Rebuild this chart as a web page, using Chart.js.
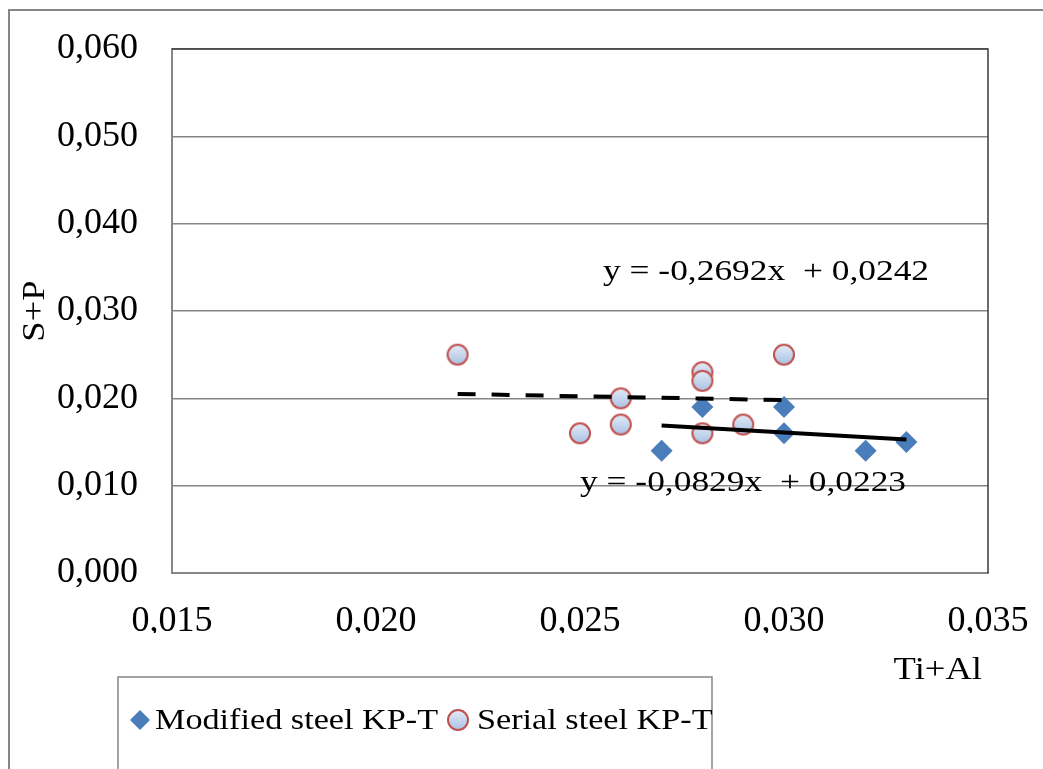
<!DOCTYPE html>
<html>
<head>
<meta charset="utf-8">
<script src="https://cdn.jsdelivr.net/npm/chart.js@4"></script>
<style>
  html, body { margin: 0; padding: 0; background: #fff; }
  #wrap { position: relative; width: 1043px; height: 769px; }
</style>
</head>
<body>
<div id="wrap"><canvas id="chart" width="1043" height="769"></canvas></div>
<script>
// data
const modifiedX = [0.027, 0.028, 0.030, 0.030, 0.032, 0.033];
const modifiedY = [0.014, 0.019, 0.019, 0.016, 0.014, 0.015];
const serialX = [0.022, 0.025, 0.026, 0.026, 0.028, 0.028, 0.028, 0.029, 0.030];
const serialY = [0.025, 0.016, 0.020, 0.017, 0.023, 0.022, 0.016, 0.017, 0.025];
// trend line end points
const dashTrendX = [0.022, 0.030];
const dashTrendY = [0.0205, 0.0198];
const solidTrendX = [0.027, 0.033];
const solidTrendY = [0.0169, 0.0153];
const xTicks = [0.015, 0.020, 0.025, 0.030, 0.035];
const yTicks = [0, 0.010, 0.020, 0.030, 0.040, 0.050, 0.060];
const seriesNames = ['Modified steel KP-T', 'Serial steel KP-T'];
const eqSolid = 'y = -0,2692x  + 0,0242';
const eqDash = 'y = -0,0829x  + 0,0223';

const SERIF = '"Liberation Serif", "Times New Roman", serif';
const GRAY = '#868686';
const BLUE = '#4a7ebb';

const pts = (xs, ys) => xs.map((x, i) => ({ x, y: ys[i] }));
const fmt = v => v.toFixed(3).replace('.', ',');

// bubble marker: light blue gradient with red rim
function makeCircle(r) {
  const c = document.createElement('canvas');
  const s = r * 2 + 4;
  c.width = s; c.height = s;
  const g = c.getContext('2d');
  const grad = g.createLinearGradient(0, 2, 0, s - 2);
  grad.addColorStop(0, '#e4ecf7');
  grad.addColorStop(1, '#a9c1e4');
  g.beginPath();
  g.arc(s / 2, s / 2, r, 0, Math.PI * 2);
  g.fillStyle = grad;
  g.fill();
  g.lineWidth = 2;
  g.strokeStyle = '#c0504d';
  g.stroke();
  return c;
}
const circleImg = makeCircle(10);

// the original's text is a little wider than Liberation Serif
function wideText(ctx, text, x, y, align, stretch, rot) {
  ctx.save();
  ctx.translate(x, y);
  if (rot) ctx.rotate(rot);
  ctx.scale(stretch, 1);
  ctx.textAlign = align;
  ctx.fillText(text, 0, 0);
  ctx.restore();
}

const extras = {
  id: 'extras',
  beforeDraw(chart) {
    const ctx = chart.ctx;
    ctx.save();
    ctx.strokeStyle = GRAY;
    ctx.lineWidth = 2;
    ctx.beginPath();
    ctx.moveTo(9, 769); ctx.lineTo(9, 10); ctx.lineTo(1043, 10);
    ctx.stroke();
    ctx.restore();
  },
  afterDatasetsDraw(chart) {
    const ctx = chart.ctx;
    const a = chart.chartArea;
    ctx.save();
    // top/right frame of plot area
    ctx.strokeStyle = '#3a3a3a';
    ctx.lineWidth = 1.5;
    ctx.beginPath();
    ctx.moveTo(a.left, a.top); ctx.lineTo(a.right, a.top); ctx.lineTo(a.right, a.bottom);
    ctx.stroke();

    ctx.fillStyle = '#000';
    ctx.font = '30px ' + SERIF;
    ctx.textBaseline = 'middle';
    wideText(ctx, eqSolid, 603, 272, 'left', 1.18);
    wideText(ctx, eqDash, 580, 483, 'left', 1.18);

    // axis titles
    ctx.font = '31px ' + SERIF;
    wideText(ctx, 'Ti+Al', 982, 671, 'right', 1.18);
    wideText(ctx, 'S+P', 36, 311, 'center', 1.18, -Math.PI / 2);

    // legend box
    ctx.strokeStyle = GRAY;
    ctx.lineWidth = 1.5;
    ctx.strokeRect(118, 677, 594, 120);
    const ly = 720;
    ctx.fillStyle = BLUE;
    ctx.beginPath();
    ctx.moveTo(140, ly - 10); ctx.lineTo(150, ly); ctx.lineTo(140, ly + 10); ctx.lineTo(130, ly);
    ctx.closePath();
    ctx.fill();
    ctx.drawImage(circleImg, 458 - circleImg.width / 2, ly - circleImg.height / 2);
    ctx.fillStyle = '#000';
    ctx.font = '30px ' + SERIF;
    wideText(ctx, seriesNames[0], 155, ly + 1, 'left', 1.14);
    wideText(ctx, seriesNames[1], 477, ly + 1, 'left', 1.14);
    ctx.restore();
  }
};

new Chart(document.getElementById('chart'), {
  type: 'scatter',
  data: {
    datasets: [
      {
        label: 'trend dash',
        type: 'line',
        data: pts(dashTrendX, dashTrendY),
        borderColor: '#000',
        borderWidth: 4,
        borderDash: [18, 16],
        pointRadius: 0,
        order: 0,
      },
      {
        label: 'trend solid',
        type: 'line',
        data: pts(solidTrendX, solidTrendY),
        borderColor: '#000',
        borderWidth: 4,
        pointRadius: 0,
        order: 0,
      },
      {
        label: seriesNames[0],
        data: pts(modifiedX, modifiedY),
        pointStyle: 'rectRot',
        pointRadius: 11,
        backgroundColor: BLUE,
        borderColor: BLUE,
        borderWidth: 0,
        order: 2,
      },
      {
        label: seriesNames[1],
        data: pts(serialX, serialY),
        pointStyle: circleImg,
        order: 1,
      },
    ],
  },
  options: {
    responsive: false,
    animation: false,
    layout: { padding: { left: 0, top: 49, right: 55, bottom: 136 } },
    plugins: { legend: { display: false }, tooltip: { enabled: false } },
    scales: {
      x: {
        type: 'linear',
        min: 0.015,
        max: 0.035,
        afterFit: s => { s.height = 60; s.paddingLeft = 0; s.paddingRight = 0; },
        afterBuildTicks: s => { s.ticks = xTicks.map(v => ({ value: v })); },
        grid: { display: false, drawTicks: false },
        border: { display: true, color: GRAY, width: 2 },
        ticks: {
          padding: 27,
          color: '#000',
          font: { family: SERIF, size: 36 },
          callback: v => fmt(v),
          maxRotation: 0,
        },
      },
      y: {
        min: 0,
        max: 0.06,
        afterFit: s => { s.width = 172; s.paddingTop = 0; s.paddingBottom = 0; },
        afterBuildTicks: s => { s.ticks = yTicks.map(v => ({ value: v })); },
        grid: { color: GRAY, lineWidth: 1.5, drawTicks: false },
        border: { display: true, color: GRAY, width: 2 },
        ticks: {
          padding: 34,
          color: '#000',
          font: { family: SERIF, size: 36 },
          callback: v => fmt(v),
        },
      },
    },
  },
  plugins: [extras],
});
</script>
</body>
</html>
